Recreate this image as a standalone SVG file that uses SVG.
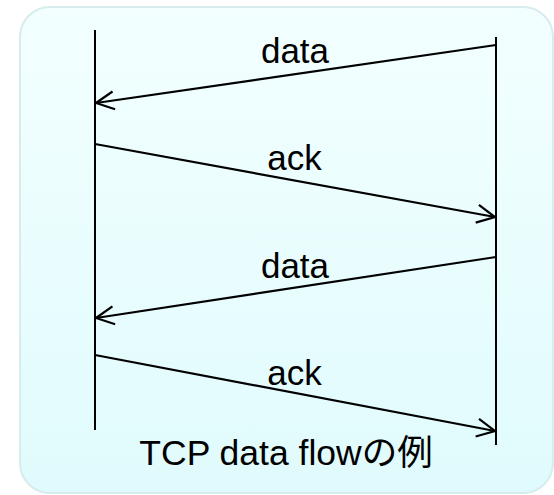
<svg xmlns="http://www.w3.org/2000/svg" width="554" height="495" viewBox="0 0 554 495">
<defs>
<linearGradient id="bg" x1="0" y1="0" x2="0" y2="1">
<stop offset="0" stop-color="#f3ffff"/>
<stop offset="1" stop-color="#e0fbfd"/>
</linearGradient>
<marker id="arr" viewBox="0 0 22 22" refX="20" refY="11" markerWidth="22" markerHeight="22" markerUnits="userSpaceOnUse" orient="auto">
<path d="M2,2 L20,11 L2,20" fill="none" stroke="#000" stroke-width="2.2"/>
</marker>
<style>
.life{stroke:#000;stroke-width:2;fill:none}
.msg{stroke:#000;stroke-width:2.2;fill:none;marker-end:url(#arr)}
.lbl{font-family:"Liberation Sans",Arial,sans-serif;font-size:35px;fill:#000;text-anchor:middle}
.cap{font-family:"Liberation Sans","Noto Sans CJK JP",sans-serif;font-size:35.5px;fill:#000;text-anchor:middle}
</style>
</defs>
<rect x="20" y="7" width="533" height="486" rx="30" ry="30" fill="url(#bg)" stroke="#d6eced" stroke-width="2"/>
<g id="lifeline-left"><line class="life" x1="95" y1="30" x2="95" y2="430"/></g>
<g id="lifeline-right"><line class="life" x1="496" y1="37" x2="496" y2="445"/></g>
<g id="connectors">
<line class="msg" x1="496" y1="45" x2="96" y2="103"/>
<line class="msg" x1="95" y1="144" x2="495" y2="217"/>
<line class="msg" x1="496" y1="257" x2="96" y2="318"/>
<line class="msg" x1="95" y1="355" x2="495" y2="431"/>
</g>
<g id="labels">
<text class="lbl" x="295" y="63">data</text>
<text class="lbl" x="294.5" y="170">ack</text>
<text class="lbl" x="295" y="278">data</text>
<text class="lbl" x="294.5" y="385">ack</text>
</g>
<g id="caption"><text class="cap" x="286" y="465">TCP data flowの例</text></g>
</svg>
